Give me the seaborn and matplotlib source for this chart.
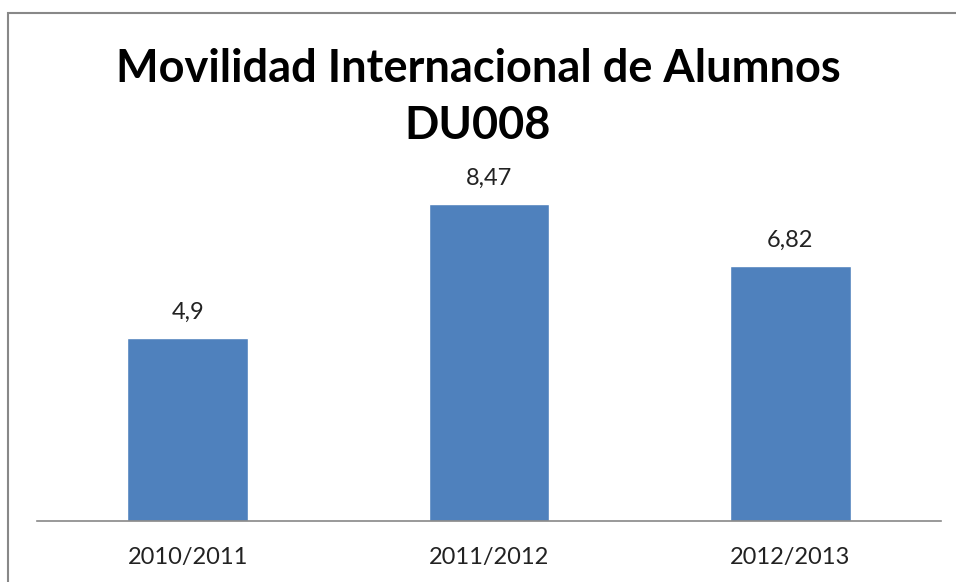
import pandas as pd
import seaborn as sns
import matplotlib.pyplot as plt
import matplotlib
from matplotlib.patches import Rectangle

matplotlib.use('Agg')

# Datos
cursos = ['2010/2011', '2011/2012', '2012/2013']
valores = [4.9, 8.47, 6.82]
etiquetas = ['4,9', '8,47', '6,82']

df = pd.DataFrame({'curso': cursos, 'valor': valores})

sns.set_style('white')
plt.rcParams['font.family'] = ['Lato', 'DejaVu Sans']

fig = plt.figure(figsize=(9.56, 5.82), dpi=100)
ax = fig.add_axes([37 / 956, 1 - 521 / 582, (941 - 37) / 956, (521 - 147) / 582])

sns.barplot(data=df, x='curso', y='valor', color='#4f81bd', saturation=1,
            width=0.4, ax=ax)

# Etiquetas de valor
for i, (v, t) in enumerate(zip(valores, etiquetas)):
    ax.text(i, v + 0.4, t, ha='center', va='bottom', fontsize=17, color='#222222')

ax.set_ylim(0, 10)
ax.set_xlim(-0.5, 2.5)
ax.set_xlabel('')
ax.set_ylabel('')
ax.set_yticks([])
ax.tick_params(axis='x', length=0, labelsize=17, pad=19, colors='#222222')
for s in ['top', 'right', 'left']:
    ax.spines[s].set_visible(False)
ax.spines['bottom'].set_color('#888888')
ax.spines['bottom'].set_linewidth(1.2)

# Título
fig.text(0.5, 1 - 69 / 582, 'Movilidad Internacional de Alumnos', ha='center', va='center',
         fontsize=32.5, fontweight='bold', color='black')
fig.text(0.5, 1 - 126 / 582, 'DU008', ha='center', va='center',
         fontsize=32.5, fontweight='bold', color='black')

# Marco
fig.patches.append(Rectangle((8 / 956, -0.1), 1.1, 1 - 13 / 582 + 0.1,
                             transform=fig.transFigure, fill=False,
                             edgecolor='#888888', linewidth=1.5))

plt.savefig('out.png', dpi=100)
